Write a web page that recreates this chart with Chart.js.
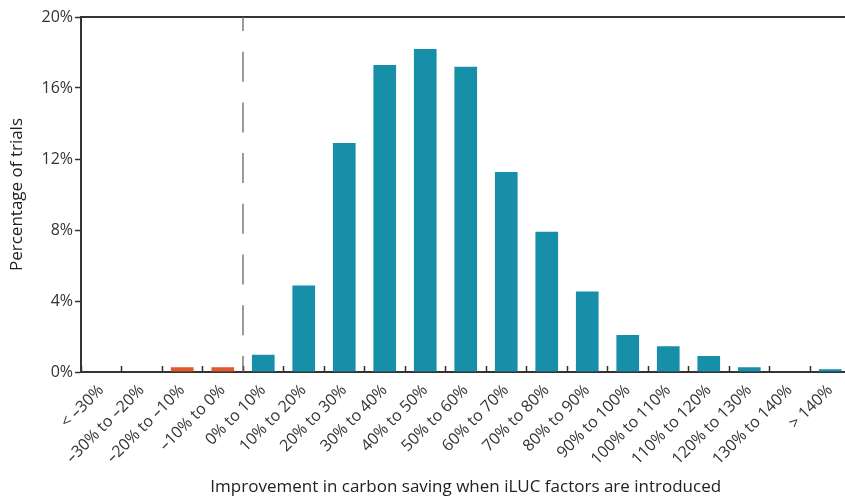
<!DOCTYPE html>
<html lang="en">
<head>
  <meta charset="UTF-8" />
  <title>Improvement in carbon saving when iLUC factors are introduced</title>
  <script src="https://cdn.jsdelivr.net/npm/chart.js"></script>
  <style>
    * { margin: 0; padding: 0; box-sizing: border-box; }
    html, body {
      width: 845px;
      height: 497px;
      background: #fff;
      overflow: hidden;
    }
    #chart { display: block; }
  </style>
</head>
<body>
  <canvas id="chart" width="860" height="497"></canvas>

  <script>
    // Histogram bins (x axis) and share of trials in each bin (%)
    const categories = [
      '< –30%', '–30% to –20%', '–20% to –10%', '–10% to 0%',
      '0% to 10%', '10% to 20%', '20% to 30%', '30% to 40%',
      '40% to 50%', '50% to 60%', '60% to 70%', '70% to 80%',
      '80% to 90%', '90% to 100%', '100% to 110%', '110% to 120%',
      '120% to 130%', '130% to 140%', '> 140%'
    ];
    const trialShare = [
      0, 0, 0.27, 0.27,
      0.97, 4.88, 12.9, 17.3,
      18.2, 17.2, 11.27, 7.9,
      4.53, 2.08, 1.45, 0.9,
      0.27, 0, 0.15
    ];
    const yTicks = [0, 4, 8, 12, 16, 20];
    const zeroIndex = 4; // first bin with a positive improvement

    const TEAL = '#178fa8';
    const ORANGE = '#e05a2c';
    const INK = '#333333';
    const FONT = "'Open Sans', sans-serif";

    const barColors = categories.map((c, i) => i < zeroIndex ? ORANGE : TEAL);

    // Draws the frame top line and the dashed zero divider
    const extras = {
      id: 'extras',
      afterDatasetsDraw(chart) {
        const { ctx, chartArea, scales } = chart;
        const x = scales.x, y = scales.y;
        ctx.save();
        // top frame line
        ctx.strokeStyle = INK;
        ctx.lineWidth = 2;
        ctx.beginPath();
        ctx.moveTo(chartArea.left, y.getPixelForValue(20));
        ctx.lineTo(chartArea.right, y.getPixelForValue(20));
        ctx.stroke();
        // dashed line between negative and positive bins
        const xz = (x.getPixelForValue(zeroIndex - 1) + x.getPixelForValue(zeroIndex)) / 2;
        ctx.strokeStyle = '#666';
        ctx.lineWidth = 1.3;
        ctx.setLineDash([30, 20.7]);
        ctx.lineDashOffset = 16;
        ctx.beginPath();
        ctx.moveTo(xz, y.getPixelForValue(20));
        ctx.lineTo(xz, y.getPixelForValue(0));
        ctx.stroke();
        ctx.restore();
      }
    };

    new Chart(document.getElementById('chart'), {
      type: 'bar',
      data: {
        labels: categories,
        datasets: [{
          data: trialShare,
          backgroundColor: barColors,
          borderWidth: 0,
          categoryPercentage: 1,
          barPercentage: 0.56
        }]
      },
      options: {
        responsive: false,
        animation: false,
        layout: { padding: { top: 17, right: 9.5, left: 0, bottom: 0 } },
        plugins: {
          legend: { display: false },
          tooltip: { enabled: false }
        },
        scales: {
          x: {
            offset: true,
            afterFit(scale) { scale.height = 125; },
            grid: {
              offset: true,
              drawOnChartArea: false,
              tickLength: -6,
              tickColor: INK,
              tickWidth: 1.5
            },
            border: { color: INK, width: 2 },
            ticks: {
              autoSkip: false,
              minRotation: 45,
              maxRotation: 45,
              padding: 15,
              color: INK,
              font: { family: FONT, size: 16 }
            },
            title: {
              display: true,
              text: 'Improvement in carbon saving when iLUC factors are introduced',
              color: '#222',
              font: { family: FONT, size: 17 },
              padding: { top: 0, bottom: 0 }
            }
          },
          y: {
            min: 0,
            max: 20,
            afterFit(scale) { scale.width = 81; },
            afterBuildTicks(scale) { scale.ticks = yTicks.map(v => ({ value: v })); },
            grid: {
              drawOnChartArea: false,
              tickLength: 6,
              tickColor: INK,
              tickWidth: 1.5
            },
            border: { color: INK, width: 2 },
            ticks: {
              padding: 2,
              color: INK,
              font: { family: FONT, size: 16 },
              callback: v => v + '%'
            },
            title: {
              display: true,
              text: 'Percentage of trials',
              color: '#222',
              font: { family: FONT, size: 17 },
              padding: { top: 7, bottom: 0 }
            }
          }
        }
      },
      plugins: [extras]
    });
  </script>
</body>
</html>
